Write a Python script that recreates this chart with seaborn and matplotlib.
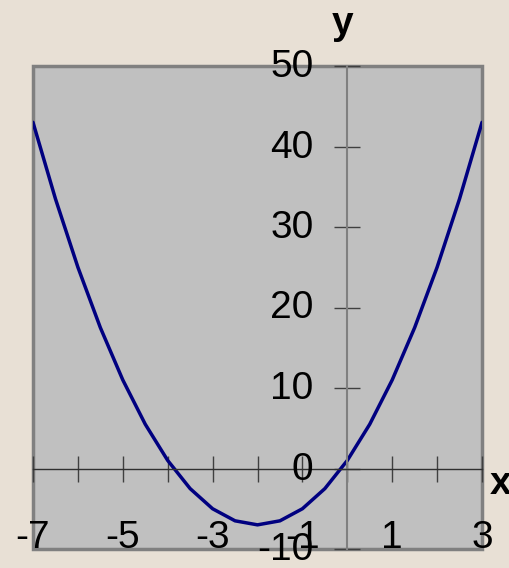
import numpy as np
import pandas as pd
import matplotlib
matplotlib.use("Agg")
import matplotlib.pyplot as plt
import seaborn as sns

# data (points every 0.5)
x_vals = [-7, -6.5, -6, -5.5, -5, -4.5, -4, -3.5, -3, -2.5, -2,
          -1.5, -1, -0.5, 0, 0.5, 1, 1.5, 2, 2.5, 3]
y_vals = [43, 33.5, 25, 17.5, 11, 5.5, 1, -2.5, -5, -6.5, -7,
          -6.5, -5, -2.5, 1, 5.5, 11, 17.5, 25, 33.5, 43]
x_ticks = list(range(-7, 4))
x_labels = [-7, -5, -3, -1, 1, 3]
y_ticks = [-10, 0, 10, 20, 30, 40, 50]

df = pd.DataFrame({"x": x_vals, "y": y_vals})

sns.set_style("white")
plt.rcParams["font.family"] = ["Liberation Sans", "DejaVu Sans"]

fig = plt.figure(figsize=(5.09, 5.68), dpi=100)
fig.patch.set_facecolor("#E8E0D5")
ax = fig.add_axes([33 / 509, 19 / 568, 449 / 509, 483 / 568])
ax.set_facecolor("#C0C0C0")
ax.patch.set_edgecolor("#808080")
ax.patch.set_linewidth(2.5)

sns.lineplot(data=df, x="x", y="y", color="#000080", linewidth=2.5, ax=ax)

ax.set_xlim(-7, 3)
ax.set_ylim(-10, 50)

# axes through the origin
ax.spines["left"].set_position(("data", 0))
ax.spines["bottom"].set_position(("data", 0))
ax.spines["right"].set_visible(False)
ax.spines["top"].set_visible(False)
ax.spines["left"].set_color("#808080")
ax.spines["left"].set_linewidth(1.5)
ax.spines["bottom"].set_color("#303030")
ax.spines["bottom"].set_linewidth(1.0)

ax.set_xticks(x_ticks)
ax.set_yticks(y_ticks)
ax.tick_params(axis="both", direction="inout", length=19, width=1,
               bottom=True, left=True, labelbottom=False, labelleft=False)
ax.tick_params(axis="x", color="#404040")
ax.tick_params(axis="y", color="#404040")
ax.set_xlabel("")
ax.set_ylabel("")

# tick labels at the low end (like the spreadsheet chart)
for v in x_labels:
    ax.annotate(str(v), (v, -10), xytext=(0, 1), textcoords="offset pixels",
                ha="center", va="baseline", fontsize=28, color="black")
for v in y_ticks:
    ax.annotate(str(v), (0, v), xytext=(-34, -1), textcoords="offset pixels",
                ha="right", va="center", fontsize=28, color="black",
                annotation_clip=False)

ax.annotate("y", (0, 50), xytext=(-5, 32), textcoords="offset pixels",
            ha="center", va="baseline", fontsize=28, fontweight="bold",
            color="black", annotation_clip=False)
ax.annotate("x", (3, 0), xytext=(8, -25), textcoords="offset pixels",
            ha="left", va="baseline", fontsize=28, fontweight="bold",
            color="black", annotation_clip=False)

fig.savefig("out.png", dpi=100, facecolor=fig.get_facecolor())
